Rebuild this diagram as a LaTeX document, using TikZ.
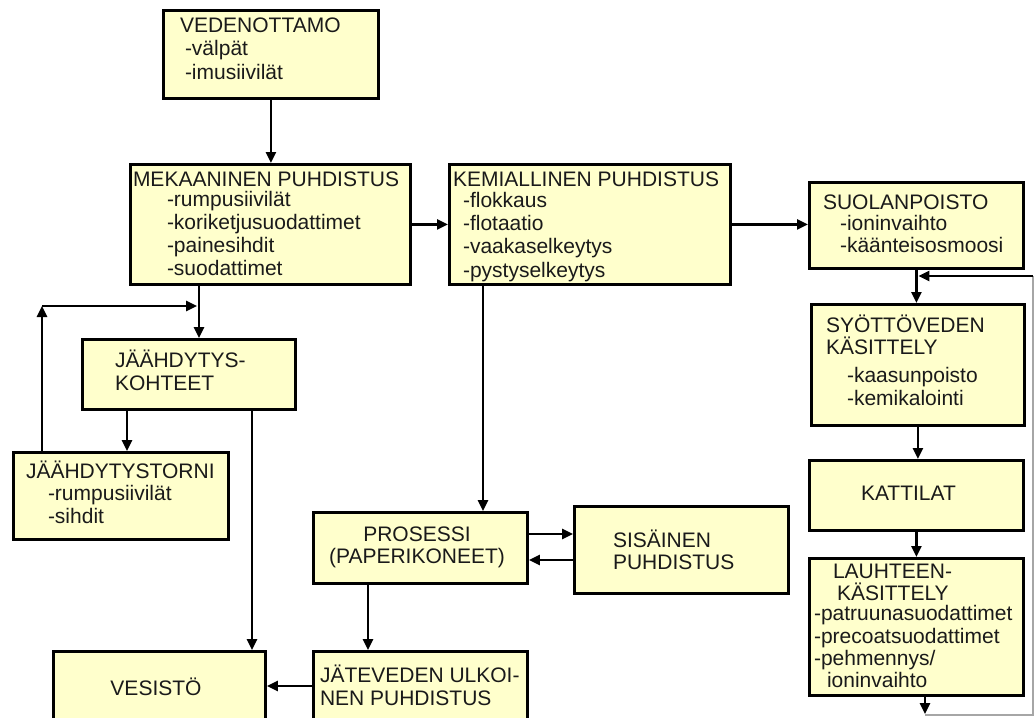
\documentclass[tikz,border=0pt]{standalone}
\usepackage{fontspec}
\setmainfont{Liberation Sans}
\usetikzlibrary{arrows.meta}
\definecolor{boxfill}{HTML}{FFFFCC}
\definecolor{txtc}{HTML}{1A1A1A}
\newcommand\tline[4]{\node[txt] (#1) at (#2,#3) {#4};}
\begin{document}
\begin{tikzpicture}[x=1pt,y=-1pt,
 box/.style={draw=black, fill=boxfill, line width=2.8pt, rectangle, inner sep=0pt, outer sep=1.4pt, anchor=north west},
 txt/.style={inner sep=0pt, outer sep=0pt, anchor=base west, text=txtc, font=\fontsize{21}{23}\selectfont},
 ctxt/.style={txt, anchor=base},
 arr/.style={line width=2.5pt, -{Triangle[length=11pt,width=10pt]}},
 thinline/.style={line width=1.2pt, draw=gray!70}]
\useasboundingbox (0,0) rectangle (1035,717);
\fill[white] (0,0) rectangle (1035,717);
\clip (0,0) rectangle (1035,717);

% boxes
\node[box, minimum width=215pt, minimum height=88pt] (ved) at (162,9) {};
\node[box, minimum width=280pt, minimum height=120pt] (mek) at (129,163) {};
\node[box, minimum width=281pt, minimum height=120pt] (kem) at (448,163) {};
\node[box, minimum width=214pt, minimum height=86pt] (suo) at (808,181) {};
\node[box, minimum width=213pt, minimum height=121pt] (syo) at (810,303) {};
\node[box, minimum width=214pt, minimum height=70pt] (kat) at (808,459) {};
\node[box, minimum width=214pt, minimum height=137pt] (lau) at (808,557) {};
\node[box, minimum width=213pt, minimum height=70pt] (jaa) at (81,338) {};
\node[box, minimum width=215pt, minimum height=87pt] (tor) at (12,451) {};
\node[box, minimum width=214pt, minimum height=71pt] (pro) at (312,511) {};
\node[box, minimum width=214pt, minimum height=87pt] (sis) at (573,505) {};
\node[box, minimum width=212pt, minimum height=90pt] (ves) at (52,650) {};
\node[box, minimum width=214pt, minimum height=90pt] (jat) at (312,650) {};

% texts
\tline{ved1}{180}{33}{VEDENOTTAMO}
\tline{ved2}{185}{56}{-välpät}
\tline{ved3}{185}{79}{-imusiivilät}

\tline{mek1}{133}{186}{MEKAANINEN PUHDISTUS}
\tline{mek2}{167}{206}{-rumpusiivilät}
\tline{mek3}{167}{229}{-koriketjusuodattimet}
\tline{mek4}{167}{252}{-painesihdit}
\tline{mek5}{167}{275}{-suodattimet}

\tline{kem1}{453}{186}{KEMIALLINEN PUHDISTUS}
\tline{kem2}{463}{207}{-flokkaus}
\tline{kem3}{463}{230}{-flotaatio}
\tline{kem4}{463}{253}{-vaakaselkeytys}
\tline{kem5}{463}{277}{-pystyselkeytys}

\tline{suo1}{823}{209}{SUOLANPOISTO}
\tline{suo2}{840}{230}{-ioninvaihto}
\tline{suo3}{840}{252}{-käänteisosmoosi}

\tline{syo1}{826}{332}{SYÖTTÖVEDEN}
\tline{syo2}{826}{354}{KÄSITTELY}
\tline{syo3}{847}{382}{-kaasunpoisto}
\tline{syo4}{847}{405}{-kemikalointi}

\tline{kat1}{861}{500}{KATTILAT}

\tline{lau1}{833}{578}{LAUHTEEN-}
\tline{lau2}{837}{600}{KÄSITTELY}
\tline{lau3}{814}{620}{-patruunasuodattimet}
\tline{lau4}{814}{643}{-precoatsuodattimet}
\tline{lau5}{814}{665}{-pehmennys/}
\tline{lau6}{827}{687}{ioninvaihto}

\tline{jaa1}{115}{367}{JÄÄHDYTYS-}
\tline{jaa2}{115}{390}{KOHTEET}

\tline{tor1}{26}{478}{JÄÄHDYTYSTORNI}
\tline{tor2}{48}{500}{-rumpusiivilät}
\tline{tor3}{48}{523}{-sihdit}

\node[ctxt] (pro1) at (417,541) {PROSESSI};
\node[ctxt] (pro2) at (417,563) {(PAPERIKONEET)};

\tline{sis1}{613}{547}{SISÄINEN}
\tline{sis2}{613}{569}{PUHDISTUS}

\node[ctxt] (ves1) at (156,695) {VESISTÖ};

\tline{jat1}{320}{682}{JÄTEVEDEN ULKOI-}
\tline{jat2}{320}{705}{NEN PUHDISTUS}

% helper coordinates
\coordinate (x42) at (42,0);
\coordinate (x127) at (127,0);
\coordinate (x199) at (199,0);
\coordinate (x252) at (252,0);
\coordinate (x368) at (368,0);
\coordinate (x483) at (483,0);
\coordinate (x925) at (925,0);
\coordinate (y534) at (0,534);
\coordinate (y560) at (0,560);
\coordinate (y686) at (0,686);
\coordinate (c306) at (42,306);
\coordinate (bot) at (925,714);
\coordinate (br) at (1033,715);
\coordinate (tr) at (1033,276);

% connectors
\draw[arr] (ved.south) -- (ved.south |- mek.north);
\draw[arr] (mek.east) -- (mek.east -| kem.west);
\draw[arr] (kem.east) -- (kem.east -| suo.west);
\draw[arr] (suo.south) -- (suo.south |- syo.north);
\draw[arr] (syo.south) -- (syo.south |- kat.north);
\draw[arr] (kat.south) -- (kat.south |- lau.north);
\draw[arr] (lau.south -| x925) -- (bot);
\draw[thinline] (925,715) -- (br) -- (tr);
\draw[arr] (tr) -- ([xshift=2pt]suo.south |- tr);

\draw[arr] (mek.south -| x199) -- (jaa.north -| x199);
\draw[arr] (tor.north -| x42) -- (c306);
\draw[arr] (c306) -- ([xshift=-2pt]c306 -| x199);
\draw[arr] (jaa.south -| x127) -- (tor.north -| x127);
\draw[arr] (jaa.south -| x252) -- (ves.north -| x252);
\draw[arr] (kem.south -| x483) -- (pro.north -| x483);
\draw[arr] (pro.east |- y534) -- (sis.west |- y534);
\draw[arr] (sis.west |- y560) -- (pro.east |- y560);
\draw[arr] (pro.south -| x368) -- (jat.north -| x368);
\draw[arr] (jat.west |- y686) -- (ves.east |- y686);
\end{tikzpicture}
\end{document}
